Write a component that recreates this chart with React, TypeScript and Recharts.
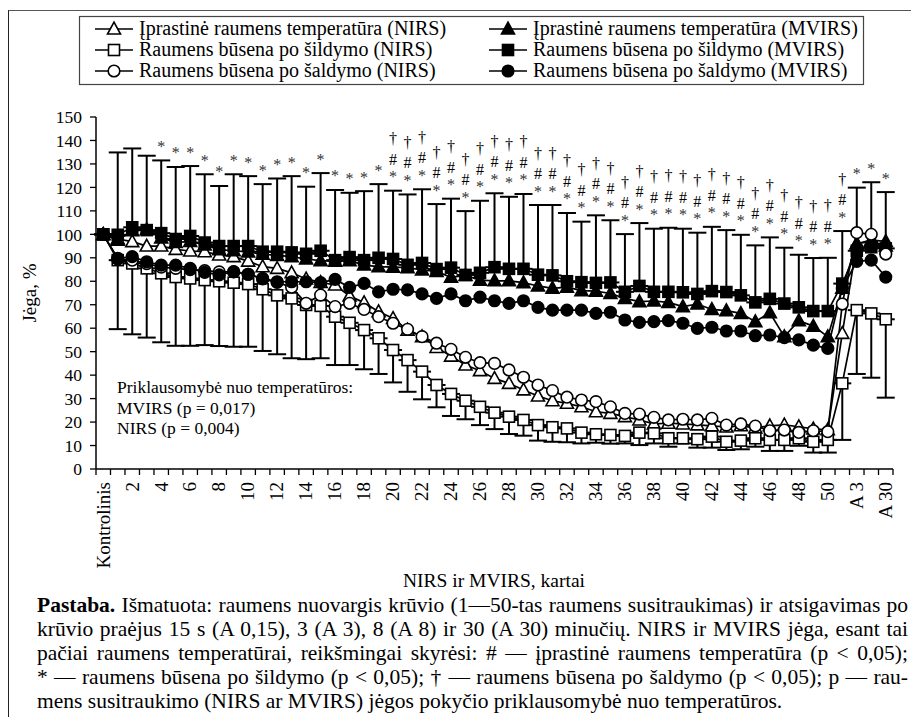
import React from 'react';
import { LineChart, Line, XAxis, YAxis, ErrorBar, LabelList } from 'recharts';

const FONT = '"Liberation Serif", "Times New Roman", serif';

// categories: control, 50 contractions, 4 recovery points
const categories = [
  'Kontrolinis',
  ...Array.from({ length: 50 }, (_, i) => String(i + 1)),
  'A 0,15', 'A 3', 'A 8', 'A 30',
];

const yTicks = [0, 10, 20, 30, 40, 50, 60, 70, 80, 90, 100, 110, 120, 130, 140, 150];

// Įprastinė raumens temperatūra
const normNIRS = [
  100, 98, 96.9, 95, 95, 93.6, 92.9, 92.6, 91.2, 90.5, 88.6, 86.2, 85.5, 83.6, 81, 79.5, 78.4, 73.7, 70.9, 67,
  64.2, 59.2, 56.4, 51.8, 48.1, 44.3, 41.9, 38.6, 36.5, 33.7, 31.1, 29.1, 28, 26.5, 24.4, 23.7, 22.3, 20.9, 19.2, 19.5,
  19.2, 18.8, 18.4, 17.9, 18.4, 17.5, 18.4, 18.8, 18, 17.1, 16.7, 57.8, 96, 97, 95,
];
const normMVIRS = [
  100, 97.5, 101.5, 102, 98.5, 96.5, 97, 95.5, 93.5, 93, 92.5, 91.5, 91, 90.5, 89.5, 88.8, 88.5, 88.8, 86.9, 86.2,
  86, 85.8, 84.8, 84.2, 81.7, 82.5, 80.5, 80.2, 80.2, 79.4, 78, 77, 77.5, 76, 75.8, 74.8, 72.7, 71.3, 71.6, 71,
  69.2, 70.3, 68, 67.5, 66.3, 62.8, 66.6, 56.4, 63.2, 60.9, 56.4, 77, 96, 97.5, 97,
];

// Raumens būsena po šildymo
const sildNIRS = [
  100, 89, 87.6, 85.5, 83.4, 81.8, 81.2, 80.5, 80, 79.4, 78.8, 76.6, 74, 72.7, 69.9, 69.5, 64.9, 62.3, 59.2, 55.7,
  50.7, 46.4, 41.5, 35.8, 32, 29.1, 26.5, 24, 22.3, 20.9, 18.7, 17.8, 17.3, 15.5, 14.8, 14.5, 14.1, 15.5, 15.2, 13.1,
  13.1, 12.7, 13.8, 11.6, 12.1, 13.1, 12.4, 12.4, 13.1, 11.6, 12.4, 36.5, 67.7, 66.3, 63.8,
];
const sildNIRSsd = [
  0, 29.4, 30.2, 29.5, 29.4, 29.3, 28.7, 27.7, 27.6, 27.3, 26.7, 26.3, 25.1, 25.5, 23.1, 22.3, 20.6, 18, 16.7, 15.2,
  13.8, 13.5, 11.8, 9.5, 9.4, 7.9, 7.8, 7, 7.4, 6.7, 6.6, 6.2, 5.9, 4.6, 3.6, 3.7, 3.2, 5.3, 4.3, 3.6,
  2.2, 3.6, 4.7, 3.5, 3.7, 3.6, 4.7, 4.7, 3.2, 4.6, 5.4, 24.1, 27.2, 27.4, 33.4,
];
const sildMVIRS = [
  100, 99.8, 103, 101.8, 100.5, 98, 99.3, 96.5, 95, 95, 95, 92.6, 92.6, 92.3, 91.7, 93, 89, 90.3, 89, 90,
  89.5, 87, 87.8, 85.2, 85.8, 82.7, 83.6, 86, 85.3, 85.3, 82.8, 82.5, 80, 79.6, 79.3, 79.5, 75.5, 78, 75.5, 75.5,
  75.3, 74.6, 75.8, 75.4, 74, 71, 72.5, 70.5, 68.9, 67.3, 67.3, 79, 93, 94.5, 94,
];
const sildMVIRSsd = [
  0, 35.1, 33.6, 31.7, 31, 30.7, 29.8, 29.1, 25.6, 30.6, 29.8, 28.8, 31.2, 32.5, 28.6, 33.1, 29.9, 27.4, 29.4, 31.4,
  29.1, 30, 31.4, 27.7, 29.4, 27.2, 30.7, 31.5, 30.7, 31.9, 29.7, 30, 29.1, 25.8, 28.8, 26.5, 24.6, 26.8, 26.9, 27.3,
  27.1, 26.1, 27.4, 26.4, 25.8, 24.3, 26.2, 23.8, 22.4, 22.6, 22.7, 22.4, 26.9, 27.7, 24,
];

// Raumens būsena po šaldymo
const saldNIRS = [
  100, 89.5, 89, 87.5, 86, 85.5, 85, 84.5, 84, 84, 83, 81, 79.5, 77.5, 70.6, 74.1, 69.2, 70.6, 68, 64.9,
  62.1, 59.5, 56.4, 53.6, 51, 47.6, 45.3, 45, 42.2, 39.1, 35.8, 33.4, 30.6, 29.4, 28.7, 26.5, 23.7, 23.4, 22, 20.9,
  21.2, 20.9, 21.6, 18.7, 19.2, 18.3, 16.3, 16.6, 15.6, 16.3, 15.9, 70.3, 100.7, 100, 91.6,
];
const saldMVIRS = [
  100, 89.8, 90.5, 88.3, 86.9, 86.9, 85.5, 83.8, 82.7, 84.1, 83, 81.2, 79.8, 79.8, 79.8, 79.4, 80.8, 77.4, 79.1, 75.5,
  76.6, 76.3, 74.6, 72.7, 74.6, 71.7, 73.2, 71.7, 70.6, 71.7, 68.9, 67.7, 67.7, 67.7, 66.3, 66.8, 63.5, 62.5, 62.8, 63.2,
  62.1, 59.9, 60.4, 58.8, 58.8, 56.8, 57.1, 56, 55, 52.8, 51.4, 77, 88.5, 89, 81.8,
];

// * / # / † marks above the error bars
const significance = [
  '', '', '', '', '*', '*', '*', '*', '*', '*', '*', '*', '*', '*', '*', '*', '*', '*', '*', '*',
  '*#†', '*#†', '*#†', '*#†', '*#†', '*#†', '*#†', '*#†', '*#†', '*#†', '*#†', '*#†', '*#†', '*#†', '*#†', '*#†', '*#†', '*#†', '*#†', '*#†',
  '*#†', '*#†', '*#†', '*#†', '*#†', '*#†', '*#†', '*#†', '*#†', '*#†', '*#†', '*#†', '*', '*', '*',
];

const rows = categories.map((cat, i) => ({
  cat,
  normNIRS: normNIRS[i],
  normMVIRS: normMVIRS[i],
  sildNIRS: sildNIRS[i],
  sildNIRSerr: [sildNIRSsd[i], 0],
  sildMVIRS: sildMVIRS[i],
  sildMVIRSerr: [0, sildMVIRSsd[i]],
  saldNIRS: saldNIRS[i],
  saldMVIRS: saldMVIRS[i],
  sigTop: sildMVIRS[i] + sildMVIRSsd[i],
  sig: significance[i],
}));

type Shape = 'tri' | 'sq' | 'circ';

const Marker = ({ cx, cy, shape, filled }: { cx?: number; cy?: number; shape: Shape; filled: boolean }) => {
  if (cx == null || cy == null) return null;
  const fill = filled ? '#000' : '#fff';
  if (shape === 'sq') {
    return <rect x={cx - 5.5} y={cy - 5.5} width={11} height={11} fill={fill} stroke="#000" strokeWidth={1.6} />;
  }
  if (shape === 'circ') {
    return <circle cx={cx} cy={cy} r={5.8} fill={fill} stroke="#000" strokeWidth={1.6} />;
  }
  return (
    <polygon
      points={`${cx},${cy - 6.8} ${cx + 6.5},${cy + 5} ${cx - 6.5},${cy + 5}`}
      fill={fill}
      stroke="#000"
      strokeWidth={1.6}
      strokeLinejoin="miter"
    />
  );
};

const dotFor = (shape: Shape, filled: boolean) => (p: any) =>
  <Marker key={`${shape}${filled}-${p.index}`} cx={p.cx} cy={p.cy} shape={shape} filled={filled} />;

const XTick = (props: any) => {
  const { x, y, payload, index } = props;
  const half = payload && typeof payload.offset === 'number' && payload.offset > 0 ? payload.offset : 7.25;
  const showLabel = index % 2 === 0;
  const last = index === categories.length - 1;
  return (
    <g>
      <line x1={x - half} x2={x - half} y1={y - 6} y2={y} stroke="#000" strokeWidth={1.3} />
      {last && <line x1={x + half} x2={x + half} y1={y - 6} y2={y} stroke="#000" strokeWidth={1.3} />}
      {showLabel && (
        <text
          transform={`translate(${x + 6.3},${y + 7}) rotate(-90)`}
          textAnchor="end"
          fontSize={19}
          fontFamily={FONT}
          fill="#000"
        >
          {payload.value}
        </text>
      )}
    </g>
  );
};

const SigLabel = (props: any) => {
  const { x, y, value } = props;
  if (!value || x == null || y == null) return null;
  const s = String(value);
  return (
    <g fontFamily={FONT} textAnchor="middle">
      {s.includes('*') && (
        <text x={x} y={y - 8.5} fontSize={16} fill="#333">*</text>
      )}
      {s.includes('#') && (
        <text x={x} y={y - 26} fontSize={16} fill="#000">#</text>
      )}
      {s.includes('†') && (
        <text x={x} y={y - 46.5} fontSize={16} fill="#000">†</text>
      )}
    </g>
  );
};

const legendItems: { label: string; shape: Shape; filled: boolean; col: number; row: number }[] = [
  { label: 'Įprastinė raumens temperatūra (NIRS)', shape: 'tri', filled: false, col: 0, row: 0 },
  { label: 'Įprastinė raumens temperatūra (MVIRS)', shape: 'tri', filled: true, col: 1, row: 0 },
  { label: 'Raumens būsena po šildymo (NIRS)', shape: 'sq', filled: false, col: 0, row: 1 },
  { label: 'Raumens būsena po šildymo (MVIRS)', shape: 'sq', filled: true, col: 1, row: 1 },
  { label: 'Raumens būsena po šaldymo (NIRS)', shape: 'circ', filled: false, col: 0, row: 2 },
  { label: 'Raumens būsena po šaldymo (MVIRS)', shape: 'circ', filled: true, col: 1, row: 2 },
];

const noteLines = [
  'Išmatuota: raumens nuovargis krūvio (1—50-tas raumens susitraukimas) ir atsigavimas po',
  'krūvio praėjus 15 s (A 0,15), 3 (A 3), 8 (A 8) ir 30 (A 30) minučių. NIRS ir MVIRS jėga, esant tai',
  'pačiai raumens temperatūrai, reikšmingai skyrėsi: # — įprastinė raumens temperatūra (p < 0,05);',
  '* — raumens būsena po šildymo (p < 0,05); † — raumens būsena po šaldymo (p < 0,05); p — rau-',
  'mens susitraukimo (NIRS ar MVIRS) jėgos pokyčio priklausomybė nuo temperatūros.',
];

const series: { key: string; shape: Shape; filled: boolean; errKey?: string }[] = [
  { key: 'normNIRS', shape: 'tri', filled: false },
  { key: 'normMVIRS', shape: 'tri', filled: true },
  { key: 'sildNIRS', shape: 'sq', filled: false, errKey: 'sildNIRSerr' },
  { key: 'sildMVIRS', shape: 'sq', filled: true, errKey: 'sildMVIRSerr' },
  { key: 'saldNIRS', shape: 'circ', filled: false },
  { key: 'saldMVIRS', shape: 'circ', filled: true },
];

export default function App() {
  return (
    <div
      style={{
        position: 'absolute',
        left: 0,
        top: 0,
        width: 911,
        height: 717,
        overflow: 'hidden',
        background: '#fff',
        fontFamily: FONT,
      }}
    >
      {/* outer frame, cut by the picture edge on right and bottom */}
      <div
        style={{
          position: 'absolute',
          left: 8,
          top: 10,
          width: 1000,
          height: 1000,
          borderLeft: '1.5px solid #222',
          borderTop: '1.5px solid #555',
        }}
      />

      <div style={{ position: 'absolute', left: 0, top: 0 }}>
        <LineChart width={911} height={600} data={rows} margin={{ top: 117, right: 18, bottom: 31, left: 36 }}>
          <XAxis
            dataKey="cat"
            scale="band"
            interval={0}
            height={100}
            tickSize={6}
            tickMargin={0}
            tickLine={false}
            axisLine={{ stroke: '#000', strokeWidth: 1.5 }}
            tick={<XTick />}
          />
          <YAxis
            domain={[0, 150]}
            ticks={yTicks}
            interval={0}
            width={60}
            tickSize={6}
            tickMargin={8}
            axisLine={{ stroke: '#000', strokeWidth: 1.5 }}
            tickLine={{ stroke: '#000', strokeWidth: 1.3 }}
            tick={{ fill: '#000', fontSize: 17.5, fontFamily: FONT }}
          />
          {series.map((s) => (
            <Line
              key={s.key}
              dataKey={s.key}
              stroke="#000"
              strokeWidth={1.7}
              dot={dotFor(s.shape, s.filled)}
              activeDot={false}
              isAnimationActive={false}
            >
              {s.errKey && (
                <ErrorBar dataKey={s.errKey} direction="y" width={9} stroke="#000" strokeWidth={2} />
              )}
            </Line>
          ))}
          <Line
            dataKey="sigTop"
            stroke="none"
            dot={false}
            activeDot={false}
            isAnimationActive={false}
          >
            <LabelList dataKey="sig" content={<SigLabel />} />
          </Line>
        </LineChart>
      </div>

      <svg
        width={911}
        height={717}
        style={{ position: 'absolute', left: 0, top: 0, pointerEvents: 'none' }}
        fontFamily={FONT}
      >
        {/* legend */}
        <rect x={79.5} y={16.5} width={784} height={68} fill="none" stroke="#444" strokeWidth={1.2} />
        {legendItems.map((it) => {
          const y = 29 + it.row * 21;
          const x0 = it.col === 0 ? 95 : 489;
          return (
            <g key={it.label}>
              <line x1={x0} x2={x0 + 38} y1={y} y2={y} stroke="#000" strokeWidth={1.7} />
              <Marker cx={x0 + 19} cy={y} shape={it.shape} filled={it.filled} />
              <text x={x0 + 44} y={y + 6} fontSize={20} fill="#000">
                {it.label}
              </text>
            </g>
          );
        })}

        {/* axis titles */}
        <text transform="translate(36,293) rotate(-90)" textAnchor="middle" fontSize={19} fill="#000">
          Jėga, %
        </text>
        <text x={494} y={587} textAnchor="middle" fontSize={19.5} fill="#000">
          NIRS ir MVIRS, kartai
        </text>

        {/* dependence on temperature */}
        <g fontSize={17.5} fill="#000">
          <text x={117} y={393}>Priklausomybė nuo temperatūros:</text>
          <text x={117} y={413.5}>MVIRS (p = 0,017)</text>
          <text x={117} y={434}>NIRS (p = 0,004)</text>
        </g>
      </svg>

      <div
        style={{
          position: 'absolute',
          left: 37,
          top: 593,
          width: 871,
          fontSize: 21.5,
          lineHeight: '24px',
          color: '#000',
        }}
      >
        {noteLines.map((ln, i) => (
          <div
            key={i}
            style={{
              textAlign: i < noteLines.length - 1 ? 'justify' : 'left',
              textAlignLast: i < noteLines.length - 1 ? 'justify' : 'left',
              whiteSpace: 'nowrap',
            }}
          >
            {i === 0 && <b>Pastaba. </b>}
            {ln}
          </div>
        ))}
      </div>
    </div>
  );
}
